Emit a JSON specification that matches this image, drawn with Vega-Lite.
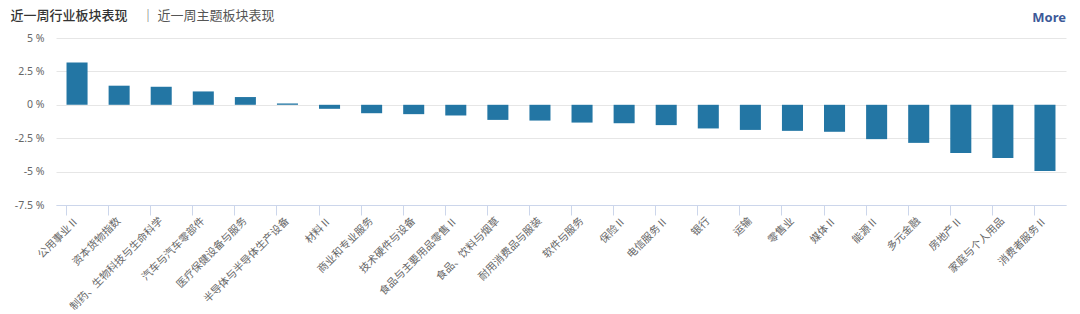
{
  "$schema": "https://vega.github.io/schema/vega-lite/v6.json",
  "width": 1010,
  "height": 167,
  "autosize": {"type": "none"},
  "padding": {"left": 56, "top": 38, "right": 14, "bottom": 109},
  "background": "#ffffff",
  "title": {
    "text": "More",
    "anchor": "end",
    "frame": "group",
    "orient": "top",
    "offset": -29,
    "baseline": "bottom",
    "font": "Noto Sans",
    "fontSize": 13,
    "fontWeight": "bold",
    "color": "#3d5a99"
  },
  "data": {
    "values": [
      {"industry": "公用事业Ⅱ", "change": 3.17},
      {"industry": "资本货物指数", "change": 1.43},
      {"industry": "制药、生物科技与生命科学", "change": 1.35},
      {"industry": "汽车与汽车零部件", "change": 1.0},
      {"industry": "医疗保健设备与服务", "change": 0.58},
      {"industry": "半导体与半导体生产设备", "change": 0.1},
      {"industry": "材料Ⅱ", "change": -0.3},
      {"industry": "商业和专业服务", "change": -0.63},
      {"industry": "技术硬件与设备", "change": -0.7},
      {"industry": "食品与主要用品零售Ⅱ", "change": -0.8},
      {"industry": "食品、饮料与烟草", "change": -1.13},
      {"industry": "耐用消费品与服装", "change": -1.18},
      {"industry": "软件与服务", "change": -1.33},
      {"industry": "保险Ⅱ", "change": -1.38},
      {"industry": "电信服务Ⅱ", "change": -1.52},
      {"industry": "银行", "change": -1.77},
      {"industry": "运输", "change": -1.88},
      {"industry": "零售业", "change": -1.95},
      {"industry": "媒体Ⅱ", "change": -2.02},
      {"industry": "能源Ⅱ", "change": -2.57},
      {"industry": "多元金融", "change": -2.85},
      {"industry": "房地产Ⅱ", "change": -3.6},
      {"industry": "家庭与个人用品", "change": -3.98},
      {"industry": "消费者服务Ⅱ", "change": -4.95}
    ]
  },
  "mark": {"type": "bar", "color": "#2376a4"},
  "encoding": {
    "x": {
      "field": "industry",
      "type": "nominal",
      "sort": null,
      "scale": {"paddingInner": 0.5, "paddingOuter": 0.25},
      "axis": {
        "title": "│  近一周主题板块表现",
        "titleX": 85,
        "titleY": -183,
        "titleAlign": "left",
        "titleBaseline": "bottom",
        "titleAnchor": null,
        "titleFont": "Noto Sans CJK SC",
        "titleFontSize": 13,
        "titleFontWeight": "normal",
        "titleColor": "#555555",
        "labelAngle": -45,
        "labelAlign": "right",
        "labelBaseline": "middle",
        "labelFont": "Noto Sans CJK SC",
        "labelFontSize": 10.5,
        "labelColor": "#666666",
        "labelPadding": 4,
        "bandPosition": 0,
        "ticks": true,
        "tickSize": 10,
        "tickColor": "#ccd6eb",
        "domainColor": "#ccd6eb",
        "grid": false
      }
    },
    "y": {
      "field": "change",
      "type": "quantitative",
      "scale": {"domain": [-7.5, 5], "nice": false},
      "axis": {
        "values": [-7.5, -5, -2.5, 0, 2.5, 5],
        "labelExpr": "datum.value + ' %'",
        "labelFont": "Noto Sans",
        "labelFontSize": 10.5,
        "labelColor": "#666666",
        "labelPadding": 12,
        "ticks": false,
        "domain": false,
        "grid": true,
        "gridColor": "#e6e6e6",
        "title": "近一周行业板块表现",
        "titleAngle": 0,
        "titleX": -46,
        "titleY": -16,
        "titleAlign": "left",
        "titleBaseline": "bottom",
        "titleFont": "Noto Sans CJK SC",
        "titleFontSize": 13,
        "titleFontWeight": 500,
        "titleColor": "#333333"
      }
    }
  },
  "config": {"view": {"stroke": null}}
}
